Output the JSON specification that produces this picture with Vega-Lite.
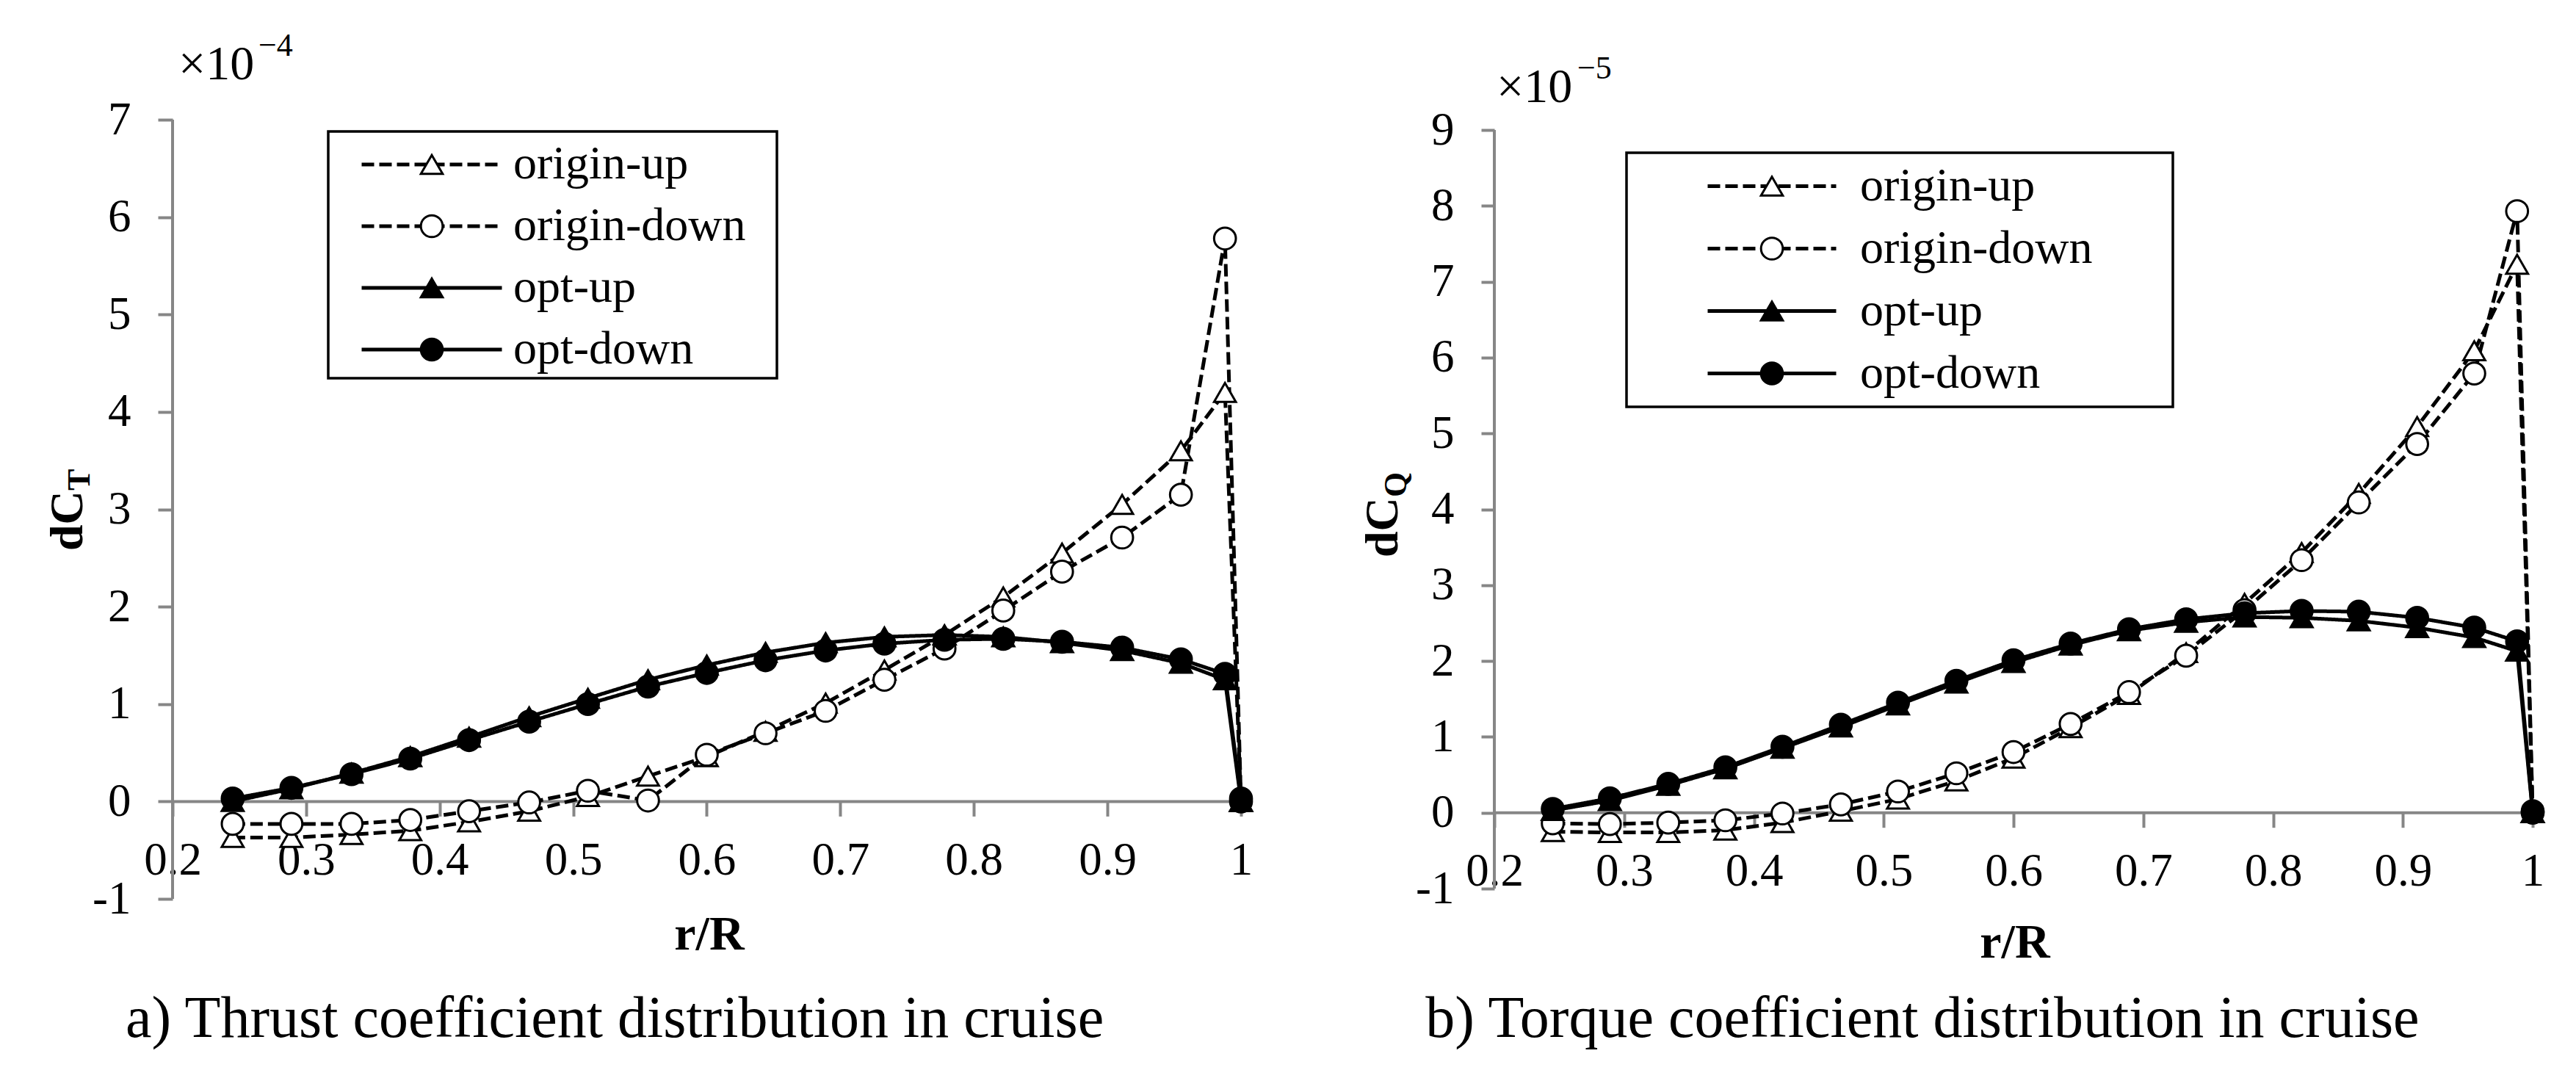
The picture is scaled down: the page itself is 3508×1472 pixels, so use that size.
{
  "$schema": "https://vega.github.io/schema/vega-lite/v6.json",
  "width": 3508,
  "height": 1472,
  "autosize": {"type": "fit", "contains": "padding"},
  "padding": 0,
  "background": "white",
  "config": {
    "view": {"stroke": null},
    "font": "Liberation Serif",
    "text": {"font": "Liberation Serif", "color": "black"}
  },
  "datasets": {
    "thrust": [
      {"r": 0.245, "series": "origin-up", "v": -0.37}, {"r": 0.289, "series": "origin-up", "v": -0.37}, {"r": 0.334, "series": "origin-up", "v": -0.34}, {"r": 0.378, "series": "origin-up", "v": -0.30}, {"r": 0.422, "series": "origin-up", "v": -0.21}, {"r": 0.467, "series": "origin-up", "v": -0.10}, {"r": 0.511, "series": "origin-up", "v": 0.05}, {"r": 0.556, "series": "origin-up", "v": 0.26}, {"r": 0.6, "series": "origin-up", "v": 0.46}, {"r": 0.644, "series": "origin-up", "v": 0.72}, {"r": 0.689, "series": "origin-up", "v": 1.01}, {"r": 0.733, "series": "origin-up", "v": 1.35}, {"r": 0.778, "series": "origin-up", "v": 1.71}, {"r": 0.822, "series": "origin-up", "v": 2.10}, {"r": 0.866, "series": "origin-up", "v": 2.55}, {"r": 0.911, "series": "origin-up", "v": 3.05}, {"r": 0.955, "series": "origin-up", "v": 3.60}, {"r": 0.988, "series": "origin-up", "v": 4.20}, {"r": 1.0, "series": "origin-up", "v": 0.0},
      {"r": 0.245, "series": "origin-down", "v": -0.23}, {"r": 0.289, "series": "origin-down", "v": -0.23}, {"r": 0.334, "series": "origin-down", "v": -0.23}, {"r": 0.378, "series": "origin-down", "v": -0.19}, {"r": 0.422, "series": "origin-down", "v": -0.10}, {"r": 0.467, "series": "origin-down", "v": -0.01}, {"r": 0.511, "series": "origin-down", "v": 0.11}, {"r": 0.556, "series": "origin-down", "v": 0.01}, {"r": 0.6, "series": "origin-down", "v": 0.48}, {"r": 0.644, "series": "origin-down", "v": 0.70}, {"r": 0.689, "series": "origin-down", "v": 0.93}, {"r": 0.733, "series": "origin-down", "v": 1.25}, {"r": 0.778, "series": "origin-down", "v": 1.57}, {"r": 0.822, "series": "origin-down", "v": 1.96}, {"r": 0.866, "series": "origin-down", "v": 2.36}, {"r": 0.911, "series": "origin-down", "v": 2.71}, {"r": 0.955, "series": "origin-down", "v": 3.15}, {"r": 0.988, "series": "origin-down", "v": 5.78}, {"r": 1.0, "series": "origin-down", "v": 0.0},
      {"r": 0.245, "series": "opt-up", "v": 0.0}, {"r": 0.289, "series": "opt-up", "v": 0.13}, {"r": 0.334, "series": "opt-up", "v": 0.29}, {"r": 0.378, "series": "opt-up", "v": 0.46}, {"r": 0.422, "series": "opt-up", "v": 0.66}, {"r": 0.467, "series": "opt-up", "v": 0.87}, {"r": 0.511, "series": "opt-up", "v": 1.06}, {"r": 0.556, "series": "opt-up", "v": 1.25}, {"r": 0.6, "series": "opt-up", "v": 1.40}, {"r": 0.644, "series": "opt-up", "v": 1.53}, {"r": 0.689, "series": "opt-up", "v": 1.63}, {"r": 0.733, "series": "opt-up", "v": 1.69}, {"r": 0.778, "series": "opt-up", "v": 1.71}, {"r": 0.822, "series": "opt-up", "v": 1.69}, {"r": 0.866, "series": "opt-up", "v": 1.63}, {"r": 0.911, "series": "opt-up", "v": 1.55}, {"r": 0.955, "series": "opt-up", "v": 1.42}, {"r": 0.988, "series": "opt-up", "v": 1.25}, {"r": 1.0, "series": "opt-up", "v": 0.0},
      {"r": 0.245, "series": "opt-down", "v": 0.03}, {"r": 0.289, "series": "opt-down", "v": 0.14}, {"r": 0.334, "series": "opt-down", "v": 0.28}, {"r": 0.378, "series": "opt-down", "v": 0.44}, {"r": 0.422, "series": "opt-down", "v": 0.63}, {"r": 0.467, "series": "opt-down", "v": 0.82}, {"r": 0.511, "series": "opt-down", "v": 1.00}, {"r": 0.556, "series": "opt-down", "v": 1.18}, {"r": 0.6, "series": "opt-down", "v": 1.32}, {"r": 0.644, "series": "opt-down", "v": 1.45}, {"r": 0.689, "series": "opt-down", "v": 1.55}, {"r": 0.733, "series": "opt-down", "v": 1.62}, {"r": 0.778, "series": "opt-down", "v": 1.66}, {"r": 0.822, "series": "opt-down", "v": 1.67}, {"r": 0.866, "series": "opt-down", "v": 1.64}, {"r": 0.911, "series": "opt-down", "v": 1.58}, {"r": 0.955, "series": "opt-down", "v": 1.46}, {"r": 0.988, "series": "opt-down", "v": 1.31}, {"r": 1.0, "series": "opt-down", "v": 0.03}
    ],
    "torque": [
      {"r": 0.245, "series": "origin-up", "v": -0.25}, {"r": 0.289, "series": "origin-up", "v": -0.26}, {"r": 0.334, "series": "origin-up", "v": -0.26}, {"r": 0.378, "series": "origin-up", "v": -0.23}, {"r": 0.422, "series": "origin-up", "v": -0.13}, {"r": 0.467, "series": "origin-up", "v": 0.02}, {"r": 0.511, "series": "origin-up", "v": 0.18}, {"r": 0.556, "series": "origin-up", "v": 0.42}, {"r": 0.6, "series": "origin-up", "v": 0.72}, {"r": 0.644, "series": "origin-up", "v": 1.12}, {"r": 0.689, "series": "origin-up", "v": 1.56}, {"r": 0.733, "series": "origin-up", "v": 2.11}, {"r": 0.778, "series": "origin-up", "v": 2.76}, {"r": 0.822, "series": "origin-up", "v": 3.43}, {"r": 0.866, "series": "origin-up", "v": 4.21}, {"r": 0.911, "series": "origin-up", "v": 5.09}, {"r": 0.955, "series": "origin-up", "v": 6.09}, {"r": 0.988, "series": "origin-up", "v": 7.23}, {"r": 1.0, "series": "origin-up", "v": 0.0},
      {"r": 0.245, "series": "origin-down", "v": -0.14}, {"r": 0.289, "series": "origin-down", "v": -0.15}, {"r": 0.334, "series": "origin-down", "v": -0.13}, {"r": 0.378, "series": "origin-down", "v": -0.10}, {"r": 0.422, "series": "origin-down", "v": -0.01}, {"r": 0.467, "series": "origin-down", "v": 0.11}, {"r": 0.511, "series": "origin-down", "v": 0.28}, {"r": 0.556, "series": "origin-down", "v": 0.52}, {"r": 0.6, "series": "origin-down", "v": 0.80}, {"r": 0.644, "series": "origin-down", "v": 1.17}, {"r": 0.689, "series": "origin-down", "v": 1.59}, {"r": 0.733, "series": "origin-down", "v": 2.07}, {"r": 0.778, "series": "origin-down", "v": 2.67}, {"r": 0.822, "series": "origin-down", "v": 3.33}, {"r": 0.866, "series": "origin-down", "v": 4.09}, {"r": 0.911, "series": "origin-down", "v": 4.86}, {"r": 0.955, "series": "origin-down", "v": 5.79}, {"r": 0.988, "series": "origin-down", "v": 7.93}, {"r": 1.0, "series": "origin-down", "v": 0.0},
      {"r": 0.245, "series": "opt-up", "v": 0.03}, {"r": 0.289, "series": "opt-up", "v": 0.16}, {"r": 0.334, "series": "opt-up", "v": 0.36}, {"r": 0.378, "series": "opt-up", "v": 0.58}, {"r": 0.422, "series": "opt-up", "v": 0.85}, {"r": 0.467, "series": "opt-up", "v": 1.13}, {"r": 0.511, "series": "opt-up", "v": 1.42}, {"r": 0.556, "series": "opt-up", "v": 1.71}, {"r": 0.6, "series": "opt-up", "v": 1.98}, {"r": 0.644, "series": "opt-up", "v": 2.21}, {"r": 0.689, "series": "opt-up", "v": 2.40}, {"r": 0.733, "series": "opt-up", "v": 2.51}, {"r": 0.778, "series": "opt-up", "v": 2.58}, {"r": 0.822, "series": "opt-up", "v": 2.57}, {"r": 0.866, "series": "opt-up", "v": 2.53}, {"r": 0.911, "series": "opt-up", "v": 2.44}, {"r": 0.955, "series": "opt-up", "v": 2.31}, {"r": 0.988, "series": "opt-up", "v": 2.13}, {"r": 1.0, "series": "opt-up", "v": 0.0},
      {"r": 0.245, "series": "opt-down", "v": 0.05}, {"r": 0.289, "series": "opt-down", "v": 0.19}, {"r": 0.334, "series": "opt-down", "v": 0.38}, {"r": 0.378, "series": "opt-down", "v": 0.60}, {"r": 0.422, "series": "opt-down", "v": 0.87}, {"r": 0.467, "series": "opt-down", "v": 1.16}, {"r": 0.511, "series": "opt-down", "v": 1.45}, {"r": 0.556, "series": "opt-down", "v": 1.74}, {"r": 0.6, "series": "opt-down", "v": 2.01}, {"r": 0.644, "series": "opt-down", "v": 2.23}, {"r": 0.689, "series": "opt-down", "v": 2.42}, {"r": 0.733, "series": "opt-down", "v": 2.55}, {"r": 0.778, "series": "opt-down", "v": 2.63}, {"r": 0.822, "series": "opt-down", "v": 2.66}, {"r": 0.866, "series": "opt-down", "v": 2.65}, {"r": 0.911, "series": "opt-down", "v": 2.57}, {"r": 0.955, "series": "opt-down", "v": 2.44}, {"r": 0.988, "series": "opt-down", "v": 2.26}, {"r": 1.0, "series": "opt-down", "v": 0.02}
    ]
  },
  "resolve": {"scale": {"x": "independent", "y": "independent", "shape": "independent", "fill": "independent", "stroke": "independent", "strokeDash": "independent"}},
  "layer": [
    {
      "data": {"name": "thrust"},
      "layer": [
        {
          "data": {"values": [{}]},
          "mark": {"type": "rule", "color": "#868686", "strokeWidth": 4},
          "encoding": {
            "x": {"datum": 0.2, "type": "quantitative"},
            "x2": {"datum": 1},
            "y": {"datum": 0, "type": "quantitative"}
          }
        },
        {
          "data": {"values": [{}]},
          "mark": {"type": "rule", "color": "#868686", "strokeWidth": 4},
          "encoding": {
            "x": {"datum": 0.2, "type": "quantitative"},
            "y": {"datum": -1, "type": "quantitative"},
            "y2": {"datum": 7}
          }
        },
        {
          "data": {"values": [{}]},
          "mark": {"type": "rect", "fill": "white", "stroke": "black", "strokeWidth": 3.5},
          "encoding": {
            "x": {"datum": 0.31656, "type": "quantitative"},
            "x2": {"datum": 0.65251},
            "y": {"datum": 6.87936, "type": "quantitative"},
            "y2": {"datum": 4.3459}
          }
        },
        {
          "mark": {"type": "line", "color": "black", "strokeWidth": 5},
          "encoding": {
            "x": {"field": "r", "type": "quantitative",
              "scale": {"domain": [0.07079, 1.99959], "nice": false, "zero": false},
              "axis": {"orient": "bottom", "offset": -380.63, "values": [0.2, 0.3, 0.4, 0.5, 0.6, 0.7, 0.8, 0.9, 1],
                "domain": false, "grid": false, "tickSize": 20, "tickWidth": 4, "tickColor": "#868686",
                "labelExpr": "'' + datum.value", "labelFont": "Liberation Serif", "labelFontSize": 63, "labelColor": "black",
                "labelPadding": 29, "labelFlush": false, "labelOverlap": false, "labelBound": false, "title": null}},
            "y": {"field": "v", "type": "quantitative",
              "scale": {"domain": [-2.86993, 8.22903], "nice": false, "zero": false},
              "axis": {"orient": "left", "offset": -235, "values": [-1, 0, 1, 2, 3, 4, 5, 6, 7],
                "domain": false, "grid": false, "tickSize": 20, "tickWidth": 4, "tickColor": "#868686",
                "labelExpr": "'' + datum.value", "labelFont": "Liberation Serif", "labelFontSize": 63, "labelColor": "black",
                "labelPadding": 37, "labelFlush": false, "labelOverlap": false, "labelBound": false, "title": null}},
            "strokeDash": {"field": "series", "type": "nominal",
              "sort": ["origin-up", "origin-down", "opt-up", "opt-down"],
              "scale": {"range": [[17, 7], [17, 7], [1, 0], [1, 0]]},
              "legend": {"orient": "none", "legendX": 447, "legendY": 179, "title": null,
                "symbolType": "stroke", "symbolSize": 36481, "symbolStrokeWidth": 5, "symbolStrokeColor": "black",
                "symbolOffset": 40, "labelExpr": "''", "labelFontSize": 64, "padding": 3, "clipHeight": 84, "rowPadding": 0}}
          }
        },
        {
          "mark": {"type": "point", "size": 880, "strokeWidth": 3, "opacity": 1},
          "encoding": {
            "x": {"field": "r", "type": "quantitative"},
            "y": {"field": "v", "type": "quantitative"},
            "shape": {"field": "series", "type": "nominal",
              "scale": {"domain": ["origin-up", "origin-down", "opt-up", "opt-down"], "range": ["triangle-up", "circle", "triangle-up", "circle"]},
              "legend": {"orient": "none", "legendX": 447, "legendY": 179, "title": null,
                "symbolSize": 880, "symbolStrokeWidth": 3, "symbolOpacity": 1,
                "symbolOffset": 106, "labelOffset": 79, "labelFont": "Liberation Serif", "labelFontSize": 64, "labelColor": "black",
                "labelLimit": 0, "padding": 3, "clipHeight": 84, "rowPadding": 0}},
            "fill": {"field": "series", "type": "nominal",
              "scale": {"domain": ["origin-up", "origin-down", "opt-up", "opt-down"], "range": ["white", "white", "black", "black"]},
              "legend": {"orient": "none", "legendX": 447, "legendY": 179, "title": null,
                "symbolSize": 880, "symbolStrokeWidth": 3, "symbolOpacity": 1,
                "symbolOffset": 106, "labelOffset": 79, "labelFont": "Liberation Serif", "labelFontSize": 64, "labelColor": "black",
                "labelLimit": 0, "padding": 3, "clipHeight": 84, "rowPadding": 0}},
            "stroke": {"field": "series", "type": "nominal",
              "scale": {"domain": ["origin-up", "origin-down", "opt-up", "opt-down"], "range": ["black", "black", "black", "black"]},
              "legend": {"orient": "none", "legendX": 447, "legendY": 179, "title": null,
                "symbolSize": 880, "symbolStrokeWidth": 3, "symbolOpacity": 1,
                "symbolOffset": 106, "labelOffset": 79, "labelFont": "Liberation Serif", "labelFontSize": 64, "labelColor": "black",
                "labelLimit": 0, "padding": 3, "clipHeight": 84, "rowPadding": 0}}
          }
        },
        {
          "data": {"values": [{}]},
          "mark": {"type": "text", "text": "×10", "fontSize": 66, "align": "left", "baseline": "alphabetic"},
          "encoding": {"x": {"datum": 0.2044, "type": "quantitative"}, "y": {"datum": 7.4147, "type": "quantitative"}}
        },
        {
          "data": {"values": [{}]},
          "mark": {"type": "text", "text": "−4", "fontSize": 44, "align": "left", "baseline": "alphabetic"},
          "encoding": {"x": {"datum": 0.2643, "type": "quantitative"}, "y": {"datum": 7.656, "type": "quantitative"}}
        },
        {
          "data": {"values": [{}]},
          "mark": {"type": "text", "text": "dC", "fontSize": 64, "fontWeight": "bold", "angle": 270, "align": "left", "baseline": "alphabetic"},
          "encoding": {"x": {"datum": 0.1324, "type": "quantitative"}, "y": {"datum": 2.574, "type": "quantitative"}}
        },
        {
          "data": {"values": [{}]},
          "mark": {"type": "text", "text": "T", "fontSize": 44, "fontWeight": "bold", "angle": 270, "align": "left", "baseline": "alphabetic"},
          "encoding": {"x": {"datum": 0.1379, "type": "quantitative"}, "y": {"datum": 3.1923, "type": "quantitative"}}
        },
        {
          "data": {"values": [{}]},
          "mark": {"type": "text", "text": "r/R", "fontSize": 66, "fontWeight": "bold", "align": "center", "baseline": "alphabetic"},
          "encoding": {"x": {"datum": 0.6019, "type": "quantitative"}, "y": {"datum": -1.5203, "type": "quantitative"}}
        },
        {
          "data": {"values": [{}]},
          "mark": {"type": "text", "text": "a) Thrust coefficient distribution in cruise", "fontSize": 80, "align": "center", "baseline": "alphabetic"},
          "encoding": {"x": {"datum": 0.531, "type": "quantitative"}, "y": {"datum": -2.4175, "type": "quantitative"}}
        }
      ]
    },
    {
      "data": {"name": "torque"},
      "layer": [
        {
          "data": {"values": [{}]},
          "mark": {"type": "rule", "color": "#868686", "strokeWidth": 4},
          "encoding": {
            "x": {"datum": 0.2, "type": "quantitative"},
            "x2": {"datum": 1},
            "y": {"datum": 0, "type": "quantitative"}
          }
        },
        {
          "data": {"values": [{}]},
          "mark": {"type": "rule", "color": "#868686", "strokeWidth": 4},
          "encoding": {
            "x": {"datum": 0.2, "type": "quantitative"},
            "y": {"datum": -1, "type": "quantitative"},
            "y2": {"datum": 9}
          }
        },
        {
          "data": {"values": [{}]},
          "mark": {"type": "rect", "fill": "white", "stroke": "black", "strokeWidth": 3.5},
          "encoding": {
            "x": {"datum": 0.30184, "type": "quantitative"},
            "x2": {"datum": 0.72277},
            "y": {"datum": 8.69991, "type": "quantitative"},
            "y2": {"datum": 5.35044}
          }
        },
        {
          "mark": {"type": "line", "color": "black", "strokeWidth": 5},
          "encoding": {
            "x": {"field": "r", "type": "quantitative",
              "scale": {"domain": [-0.951344, 1.03338], "nice": false, "zero": false},
              "axis": {"orient": "bottom", "offset": -365.3, "values": [0.2, 0.3, 0.4, 0.5, 0.6, 0.7, 0.8, 0.9, 1],
                "domain": false, "grid": false, "tickSize": 20, "tickWidth": 4, "tickColor": "#868686",
                "labelExpr": "'' + datum.value", "labelFont": "Liberation Serif", "labelFontSize": 63, "labelColor": "black",
                "labelPadding": 29, "labelFlush": false, "labelOverlap": false, "labelBound": false, "title": null}},
            "y": {"field": "v", "type": "quantitative",
              "scale": {"domain": [-3.5363, 10.71346], "nice": false, "zero": false},
              "axis": {"orient": "left", "offset": -2035, "values": [-1, 0, 1, 2, 3, 4, 5, 6, 7, 8, 9],
                "domain": false, "grid": false, "tickSize": 18, "tickWidth": 4, "tickColor": "#868686",
                "labelExpr": "'' + datum.value", "labelFont": "Liberation Serif", "labelFontSize": 63, "labelColor": "black",
                "labelPadding": 37, "labelFlush": false, "labelOverlap": false, "labelBound": false, "title": null}},
            "strokeDash": {"field": "series", "type": "nominal",
              "sort": ["origin-up", "origin-down", "opt-up", "opt-down"],
              "scale": {"range": [[17, 7], [17, 7], [1, 0], [1, 0]]},
              "legend": {"orient": "none", "legendX": 2215, "legendY": 208, "title": null,
                "symbolType": "stroke", "symbolSize": 30625, "symbolStrokeWidth": 5, "symbolStrokeColor": "black",
                "symbolOffset": 105, "labelExpr": "''", "labelFontSize": 64, "padding": 3, "clipHeight": 85, "rowPadding": 0}}
          }
        },
        {
          "mark": {"type": "point", "size": 880, "strokeWidth": 3, "opacity": 1},
          "encoding": {
            "x": {"field": "r", "type": "quantitative"},
            "y": {"field": "v", "type": "quantitative"},
            "shape": {"field": "series", "type": "nominal",
              "scale": {"domain": ["origin-up", "origin-down", "opt-up", "opt-down"], "range": ["triangle-up", "circle", "triangle-up", "circle"]},
              "legend": {"orient": "none", "legendX": 2215, "legendY": 208, "title": null,
                "symbolSize": 880, "symbolStrokeWidth": 3, "symbolOpacity": 1,
                "symbolOffset": 163, "labelOffset": 88, "labelFont": "Liberation Serif", "labelFontSize": 64, "labelColor": "black",
                "labelLimit": 0, "padding": 3, "clipHeight": 85, "rowPadding": 0}},
            "fill": {"field": "series", "type": "nominal",
              "scale": {"domain": ["origin-up", "origin-down", "opt-up", "opt-down"], "range": ["white", "white", "black", "black"]},
              "legend": {"orient": "none", "legendX": 2215, "legendY": 208, "title": null,
                "symbolSize": 880, "symbolStrokeWidth": 3, "symbolOpacity": 1,
                "symbolOffset": 163, "labelOffset": 88, "labelFont": "Liberation Serif", "labelFontSize": 64, "labelColor": "black",
                "labelLimit": 0, "padding": 3, "clipHeight": 85, "rowPadding": 0}},
            "stroke": {"field": "series", "type": "nominal",
              "scale": {"domain": ["origin-up", "origin-down", "opt-up", "opt-down"], "range": ["black", "black", "black", "black"]},
              "legend": {"orient": "none", "legendX": 2215, "legendY": 208, "title": null,
                "symbolSize": 880, "symbolStrokeWidth": 3, "symbolOpacity": 1,
                "symbolOffset": 163, "labelOffset": 88, "labelFont": "Liberation Serif", "labelFontSize": 64, "labelColor": "black",
                "labelLimit": 0, "padding": 3, "clipHeight": 85, "rowPadding": 0}}
          }
        },
        {
          "data": {"values": [{}]},
          "mark": {"type": "text", "text": "×10", "fontSize": 66, "align": "left", "baseline": "alphabetic"},
          "encoding": {"x": {"datum": 0.2017, "type": "quantitative"}, "y": {"datum": 9.3679, "type": "quantitative"}}
        },
        {
          "data": {"values": [{}]},
          "mark": {"type": "text", "text": "−5", "fontSize": 44, "align": "left", "baseline": "alphabetic"},
          "encoding": {"x": {"datum": 0.2639, "type": "quantitative"}, "y": {"datum": 9.6776, "type": "quantitative"}}
        },
        {
          "data": {"values": [{}]},
          "mark": {"type": "text", "text": "dC", "fontSize": 64, "fontWeight": "bold", "angle": 270, "align": "left", "baseline": "alphabetic"},
          "encoding": {"x": {"datum": 0.1253, "type": "quantitative"}, "y": {"datum": 3.3659, "type": "quantitative"}}
        },
        {
          "data": {"values": [{}]},
          "mark": {"type": "text", "text": "Q", "fontSize": 44, "fontWeight": "bold", "angle": 270, "align": "left", "baseline": "alphabetic"},
          "encoding": {"x": {"datum": 0.1321, "type": "quantitative"}, "y": {"datum": 4.1597, "type": "quantitative"}}
        },
        {
          "data": {"values": [{}]},
          "mark": {"type": "text", "text": "r/R", "fontSize": 66, "fontWeight": "bold", "align": "center", "baseline": "alphabetic"},
          "encoding": {"x": {"datum": 0.6011, "type": "quantitative"}, "y": {"datum": -1.91, "type": "quantitative"}}
        },
        {
          "data": {"values": [{}]},
          "mark": {"type": "text", "text": "b) Torque coefficient distribution in cruise", "fontSize": 80, "align": "center", "baseline": "alphabetic"},
          "encoding": {"x": {"datum": 0.5298, "type": "quantitative"}, "y": {"datum": -2.9555, "type": "quantitative"}}
        }
      ]
    }
  ]
}
